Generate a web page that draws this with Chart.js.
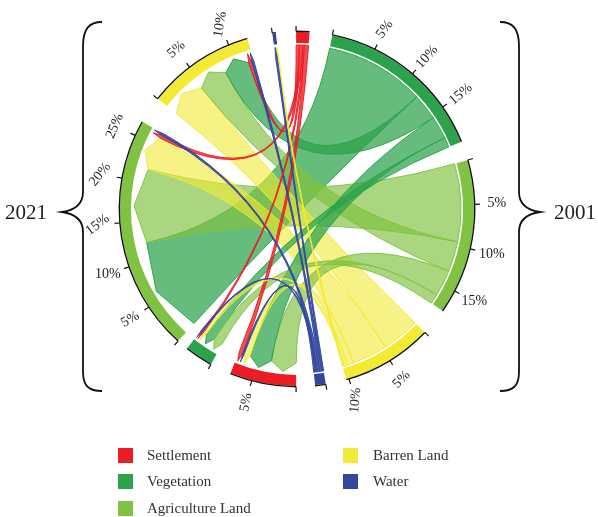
<!DOCTYPE html>
<html>
<head>
<meta charset="utf-8">
<script src="https://cdn.jsdelivr.net/npm/chart.js@4/dist/chart.umd.min.js"></script>
<style>
  html, body { margin: 0; padding: 0; background: #ffffff; }
  #wrap { width: 598px; height: 517px; position: relative; }
</style>
</head>
<body>
<div id="wrap"><canvas id="chord" width="598" height="517"></canvas></div>
<script>
// Land-cover classes and their colours
const classes = ['Settlement', 'Vegetation', 'Agriculture Land', 'Barren Land', 'Water'];
const classColors = ['#ED1C24', '#2BA24B', '#80C343', '#F2EA33', '#33479F'];
const years = ['2001', '2021'];

// Transitions from each 2001 class (one array per class) to the 2021 classes,
// in percent of the combined total: [Settlement, Vegetation, Agriculture, Barren, Water]
const flowSettlement  = [0.5, 0.2, 0.4, 0.4, 0.0];
const flowVegetation  = [2.8, 1.2, 12.2, 3.2, 0.0];
const flowAgriculture = [3.2, 1.2, 9.5, 3.7, 0.0];
const flowBarren      = [0.8, 0.4, 4.3, 4.6, 0.2];
const flowWater       = [0.2, 0.2, 0.3, 0.3, 0.2];

// Axis ticks every 5 percent
const tickStep = 5;

// ---- layout (degrees, clockwise from 12 o'clock) ----
const startDeg = -0.3;
const gapsAfter = [7.45, 6.24, 8.96, 6.8, 6.15, 6.95, 3.72, 8.97, 8.22, 6.56];
// clockwise order of the links along each sector
const orderFrom2001 = [[3, 2, 1, 0], [2, 3, 0, 1], [2, 3, 0, 1], [3, 2, 0, 1, 4], [4, 3, 2, 1, 0]];
const orderInto2021 = [[2, 1, 3, 4, 0], [2, 1, 3, 0, 4], [1, 2, 3, 0, 4], [3, 2, 1, 0, 4], [4, 3]];
// slant of the percentage labels (degrees) per sector
const tickLabelTilt = { 1: [-53, -48, -40], 2: [0, 0, 0], 3: [-45, -85], 5: [-80], 7: [-30, 0, -37, -52, -67], 8: [-41, -81] };

const flows = [flowSettlement, flowVegetation, flowAgriculture, flowBarren, flowWater];
const total2001 = flows.map(r => r.reduce((a, b) => a + b, 0));
const total2021 = classes.map((_, j) => flows.reduce((a, r) => a + r[j], 0));
const sectorValues = total2001.concat(total2021);
const grand = sectorValues.reduce((a, b) => a + b, 0);
const degPerUnit = (360 - gapsAfter.reduce((a, b) => a + b, 0)) / grand;

// doughnut ring: sectors interleaved with transparent gaps
const ringData = [], ringColors = [];
sectorValues.forEach((v, i) => {
  ringData.push(v); ringColors.push(classColors[i % 5]);
  ringData.push(gapsAfter[i] / degPerUnit); ringColors.push('rgba(0,0,0,0)');
});

const ribbonAlpha = [0.78, 0.72, 0.68, 0.6, 0.88];
function rgba(hex, a) {
  const n = parseInt(hex.slice(1), 16);
  return `rgba(${n >> 16},${(n >> 8) & 255},${n & 255},${a})`;
}

const R_OUT = 177, R_IN = 166, R_SRC = 164, R_TGT = 154, R_TIP = 163, R_LABEL = 200;
const SERIF = '"Liberation Serif", "DejaVu Serif", serif';

const chordPlugin = {
  id: 'chord',
  beforeDatasetsDraw(chart) {
    const ctx = chart.ctx;
    const arcs = chart.getDatasetMeta(0).data;
    const cx = arcs[0].x, cy = arcs[0].y;
    const P = (a, r) => [cx + r * Math.cos(a), cy + r * Math.sin(a)];
    const links = [];
    for (let i = 0; i < 5; i++) {
      for (let j = 0; j < 5; j++) if (flows[i][j] > 0) links.push({ i, j, v: flows[i][j] });
    }
    const find = (i, j) => links.find(l => l.i === i && l.j === j);
    for (let i = 0; i < 5; i++) {
      const el = arcs[2 * i];
      const per = (el.endAngle - el.startAngle) / total2001[i];
      let a = el.startAngle;
      orderFrom2001[i].forEach(j => {
        const l = find(i, j); if (!l) return;
        l.src = [a, a + l.v * per]; a += l.v * per;
      });
    }
    for (let j = 0; j < 5; j++) {
      const el = arcs[2 * (5 + j)];
      const per = (el.endAngle - el.startAngle) / total2021[j];
      let b = el.startAngle;
      orderInto2021[j].forEach(i => {
        const l = find(i, j); if (!l) return;
        l.tgt = [b, b + l.v * per]; b += l.v * per;
      });
    }
    links.sort((p, q) => q.v - p.v);
    ctx.save();
    links.forEach(l => {
      const [a1, a2] = l.src, [b1, b2] = l.tgt;
      ctx.beginPath();
      ctx.arc(cx, cy, R_SRC, a1, a2);
      let p = P(b1, R_TGT);
      ctx.quadraticCurveTo(cx, cy, p[0], p[1]);
      p = P((b1 + b2) / 2, R_TIP);
      ctx.lineTo(p[0], p[1]);
      p = P(b2, R_TGT);
      ctx.lineTo(p[0], p[1]);
      p = P(a1, R_SRC);
      ctx.quadraticCurveTo(cx, cy, p[0], p[1]);
      ctx.closePath();
      ctx.fillStyle = rgba(classColors[l.i], ribbonAlpha[l.i]);
      ctx.fill();
      ctx.lineWidth = 1;
      ctx.strokeStyle = rgba(classColors[l.i], 0.95);
      ctx.stroke();
    });
    ctx.restore();
  },
  afterDraw(chart) {
    const ctx = chart.ctx;
    const arcs = chart.getDatasetMeta(0).data;
    const cx = arcs[0].x, cy = arcs[0].y;
    ctx.save();
    ctx.strokeStyle = '#111';
    ctx.fillStyle = '#222';
    ctx.font = '14px ' + SERIF;
    ctx.textBaseline = 'middle';
    ctx.textAlign = 'center';
    // percentage axis along every sector
    sectorValues.forEach((v, s) => {
      const el = arcs[2 * s];
      ctx.lineWidth = 1.4;
      ctx.beginPath();
      ctx.arc(cx, cy, R_OUT + 0.7, el.startAngle, el.endAngle);
      ctx.stroke();
      const per = (el.endAngle - el.startAngle) / v;
      let k = 0;
      for (let t = 0; t <= v + 1e-9; t += tickStep) {
        const a = el.startAngle + t * per;
        const c = Math.cos(a), sn = Math.sin(a);
        ctx.lineWidth = 1.2;
        ctx.beginPath();
        ctx.moveTo(cx + (R_OUT + 0.7) * c, cy + (R_OUT + 0.7) * sn);
        ctx.lineTo(cx + (R_OUT + 6) * c, cy + (R_OUT + 6) * sn);
        ctx.stroke();
        if (t === 0) continue;
        const tilts = tickLabelTilt[s];
        let rot = tilts ? tilts[k] * Math.PI / 180 : (c >= 0 ? a : a + Math.PI);
        k++;
        ctx.save();
        ctx.translate(cx + R_LABEL * c, cy + R_LABEL * sn);
        ctx.rotate(rot);
        ctx.fillText(t + '%', 0, 0);
        ctx.restore();
      }
    });
    // year braces
    ctx.lineWidth = 1.8;
    ctx.strokeStyle = '#111';
    const brace = (m) => {
      const X = x => (m ? 602 - x : x);
      ctx.beginPath();
      ctx.moveTo(X(102), 22);
      ctx.bezierCurveTo(X(89), 22, X(83), 29, X(83), 46);
      ctx.lineTo(X(83), 192);
      ctx.bezierCurveTo(X(83), 204, X(76), 210, X(62), 212);
      ctx.bezierCurveTo(X(76), 214, X(83), 220, X(83), 232);
      ctx.lineTo(X(83), 372);
      ctx.bezierCurveTo(X(83), 386, X(89), 391, X(102), 391);
      ctx.stroke();
    };
    brace(false); brace(true);
    ctx.font = '21px ' + SERIF;
    ctx.textAlign = 'center';
    ctx.fillStyle = '#222';
    ctx.fillText(years[1], 26, 213);
    ctx.fillText(years[0], 575, 213);
    // legend in two columns
    ctx.font = '15px ' + SERIF;
    ctx.textAlign = 'left';
    const legendPos = [[118, 448], [118, 474], [118, 501], [343, 448], [343, 474]];
    classes.forEach((name, k) => {
      const [x, y] = legendPos[k];
      ctx.fillStyle = classColors[k];
      ctx.fillRect(x, y, 15, 15);
      ctx.fillStyle = '#333';
      ctx.fillText(name, x + (k < 3 ? 29 : 30), y + 8);
    });
    ctx.restore();
  }
};

new Chart(document.getElementById('chord'), {
  type: 'doughnut',
  data: {
    labels: ringData.map((_, k) => (k % 2 === 0 ? classes[(k / 2) % 5] + ' ' + years[k < 10 ? 0 : 1] : '')),
    datasets: [{
      data: ringData,
      backgroundColor: ringColors,
      borderWidth: 0,
      hoverOffset: 0,
      radius: R_OUT,
      cutout: R_IN
    }]
  },
  options: {
    responsive: false,
    animation: false,
    rotation: startDeg,
    radius: R_OUT,
    cutout: R_IN,
    layout: { padding: { left: 120, right: 124, top: 32, bottom: 131 } },
    plugins: { legend: { display: false }, tooltip: { enabled: false } },
    events: []
  },
  plugins: [chordPlugin]
});
</script>
</body>
</html>
